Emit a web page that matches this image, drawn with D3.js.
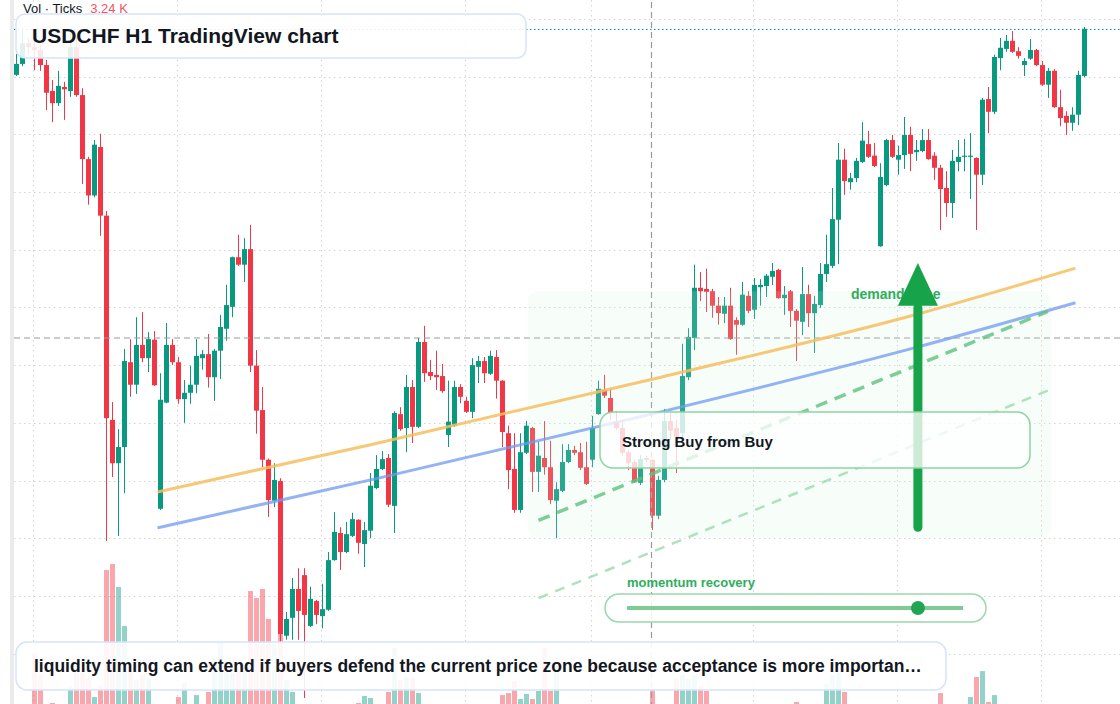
<!DOCTYPE html>
<html>
<head>
<meta charset="utf-8">
<script src="https://cdn.jsdelivr.net/npm/d3@7"></script>
<style>
  html, body { margin: 0; padding: 0; background: #ffffff; }
  svg { display: block; }
  text { font-family: "Liberation Sans", Arial, sans-serif; }
</style>
</head>
<body>
<div id="chart"></div>
<script>
// USDCHF H1 candles
var opens = [
  0.89003,0.89022,0.89058,0.89051,0.89046,0.89020,0.88975,0.88954,0.88982,0.88975,
  0.89051,0.88968,0.88857,0.88794,0.88878,0.88759,0.88405,0.88330,0.88358,0.88505,
  0.88466,0.88535,0.88512,0.88544,0.88251,0.88435,0.88535,0.88505,0.88441,0.88452,
  0.88466,0.88512,0.88519,0.88479,0.88525,0.88563,0.88601,0.88687,0.88674,0.88701,
  0.88499,0.88422,0.88336,0.88265,0.88299,0.88031,0.88062,0.88112,0.88136,0.88048,
  0.88091,0.88065,0.88076,0.88162,0.88209,0.88176,0.88204,0.88232,0.88190,0.88213,
  0.88287,0.88320,0.88339,0.88256,0.88415,0.88391,0.88462,0.88393,0.88540,0.88488,
  0.88483,0.88481,0.88379,0.88395,0.88462,0.88438,0.88419,0.88497,0.88507,0.88485,
  0.88514,0.88473,0.88382,0.88320,0.88249,0.88348,0.88391,0.88315,0.88339,0.88323,
  0.88265,0.88282,0.88332,0.88353,0.88349,0.88323,0.88336,0.88415,0.88457,0.88443,
  0.88402,0.88391,0.88349,0.88332,0.88296,0.88339,0.88336,0.88239,0.88301,0.88403,
  0.88391,0.88382,0.88479,0.88547,0.88634,0.88632,0.88628,0.88603,0.88589,0.88603,
  0.88578,0.88570,0.88620,0.88596,0.88635,0.88637,0.88653,0.88665,0.88616,0.88628,
  0.88594,0.88575,0.88623,0.88590,0.88604,0.88658,0.88672,0.88752,0.88856,0.88817,
  0.88824,0.88852,0.88883,0.88863,0.88706,0.88812,0.88890,0.88856,0.88864,0.88899,
  0.88869,0.88871,0.88890,0.88863,0.88842,0.88807,0.88781,0.88852,0.88861,0.88861,
  0.88859,0.88830,0.88961,0.88939,0.89032,0.89048,0.89062,0.89044,0.89020,0.89031,
  0.89046,0.89020,0.88986,0.89010,0.88947,0.88932,0.88920,0.88934,0.89001
];
var highs = [
  0.89039,0.89081,0.89067,0.89063,0.89055,0.89029,0.88994,0.89010,0.88991,0.89081,
  0.89070,0.88980,0.88861,0.88890,0.88901,0.88767,0.88436,0.88389,0.88528,0.88545,
  0.88583,0.88592,0.88557,0.88559,0.88486,0.88573,0.88545,0.88514,0.88474,0.88499,
  0.88545,0.88526,0.88554,0.88528,0.88587,0.88639,0.88688,0.88726,0.88720,0.88743,
  0.88526,0.88462,0.88338,0.88330,0.88304,0.88072,0.88131,0.88148,0.88148,0.88116,
  0.88093,0.88121,0.88176,0.88245,0.88219,0.88228,0.88244,0.88233,0.88228,0.88313,
  0.88344,0.88351,0.88346,0.88420,0.88427,0.88483,0.88474,0.88547,0.88568,0.88509,
  0.88525,0.88502,0.88473,0.88473,0.88467,0.88445,0.88512,0.88516,0.88514,0.88525,
  0.88526,0.88474,0.88395,0.88382,0.88382,0.88403,0.88393,0.88367,0.88403,0.88369,
  0.88297,0.88363,0.88363,0.88360,0.88365,0.88367,0.88412,0.88473,0.88483,0.88459,
  0.88420,0.88405,0.88353,0.88336,0.88344,0.88343,0.88337,0.88308,0.88424,0.88419,
  0.88405,0.88537,0.88564,0.88674,0.88661,0.88667,0.88632,0.88618,0.88618,0.88634,
  0.88583,0.88644,0.88628,0.88651,0.88649,0.88658,0.88677,0.88667,0.88637,0.88630,
  0.88597,0.88670,0.88639,0.88620,0.88677,0.88726,0.88807,0.88885,0.88875,0.88833,
  0.88859,0.88921,0.88906,0.88885,0.88850,0.88892,0.88899,0.88880,0.88930,0.88913,
  0.88890,0.88909,0.88909,0.88869,0.88847,0.88836,0.88873,0.88890,0.88892,0.88902,
  0.88860,0.88963,0.88982,0.89038,0.89067,0.89072,0.89079,0.89051,0.89032,0.89065,
  0.89048,0.89027,0.89015,0.89013,0.88977,0.88940,0.88947,0.89010,0.89086
];
var lows = [
  0.89001,0.89018,0.89038,0.89011,0.89010,0.88942,0.88921,0.88949,0.88925,0.88965,
  0.88965,0.88814,0.88778,0.88791,0.88724,0.88195,0.88306,0.88204,0.88278,0.88445,
  0.88450,0.88505,0.88488,0.88464,0.88249,0.88434,0.88500,0.88433,0.88400,0.88433,
  0.88451,0.88492,0.88461,0.88438,0.88476,0.88542,0.88583,0.88672,0.88644,0.88488,
  0.88381,0.88323,0.88237,0.88254,0.88020,0.88024,0.88024,0.88024,0.87923,0.88046,
  0.88051,0.88044,0.88074,0.88161,0.88145,0.88174,0.88202,0.88173,0.88150,0.88200,
  0.88285,0.88318,0.88254,0.88209,0.88386,0.88349,0.88365,0.88391,0.88471,0.88474,
  0.88457,0.88452,0.88358,0.88393,0.88434,0.88417,0.88408,0.88469,0.88469,0.88483,
  0.88442,0.88358,0.88285,0.88244,0.88244,0.88346,0.88280,0.88280,0.88310,0.88259,
  0.88200,0.88280,0.88330,0.88344,0.88318,0.88292,0.88323,0.88414,0.88443,0.88405,
  0.88388,0.88343,0.88318,0.88296,0.88292,0.88332,0.88214,0.88233,0.88297,0.88370,
  0.88313,0.88370,0.88474,0.88526,0.88611,0.88592,0.88582,0.88570,0.88573,0.88544,
  0.88518,0.88568,0.88590,0.88580,0.88603,0.88618,0.88639,0.88615,0.88587,0.88566,
  0.88507,0.88552,0.88566,0.88521,0.88599,0.88644,0.88668,0.88675,0.88795,0.88804,
  0.88817,0.88850,0.88859,0.88843,0.88705,0.88810,0.88859,0.88830,0.88840,0.88836,
  0.88854,0.88869,0.88856,0.88821,0.88734,0.88757,0.88755,0.88836,0.88836,0.88788,
  0.88734,0.88812,0.88902,0.88935,0.89011,0.89043,0.89041,0.89031,0.89001,0.89029,
  0.89018,0.88984,0.88963,0.88946,0.88914,0.88899,0.88906,0.88916,0.88999
];
var closes = [
  0.89022,0.89058,0.89051,0.89046,0.89020,0.88972,0.88954,0.88984,0.88978,0.89051,
  0.88968,0.88857,0.88794,0.88882,0.88759,0.88408,0.88330,0.88358,0.88507,0.88466,
  0.88535,0.88512,0.88545,0.88465,0.88440,0.88535,0.88505,0.88441,0.88452,0.88466,
  0.88516,0.88519,0.88479,0.88525,0.88566,0.88604,0.88687,0.88674,0.88701,0.88499,
  0.88421,0.88336,0.88266,0.88301,0.88034,0.88060,0.88112,0.88074,0.88067,0.88095,
  0.88067,0.88077,0.88162,0.88211,0.88176,0.88207,0.88233,0.88192,0.88214,0.88291,
  0.88320,0.88337,0.88258,0.88417,0.88389,0.88462,0.88393,0.88540,0.88486,0.88481,
  0.88479,0.88455,0.88402,0.88462,0.88445,0.88419,0.88500,0.88507,0.88486,0.88516,
  0.88473,0.88384,0.88318,0.88249,0.88349,0.88395,0.88315,0.88343,0.88323,0.88266,
  0.88285,0.88332,0.88353,0.88348,0.88322,0.88294,0.88391,0.88459,0.88447,0.88417,
  0.88391,0.88348,0.88330,0.88297,0.88337,0.88336,0.88239,0.88301,0.88403,0.88386,
  0.88375,0.88481,0.88549,0.88634,0.88628,0.88627,0.88603,0.88590,0.88603,0.88545,
  0.88570,0.88622,0.88594,0.88639,0.88639,0.88655,0.88663,0.88616,0.88622,0.88594,
  0.88577,0.88623,0.88590,0.88606,0.88658,0.88675,0.88753,0.88856,0.88819,0.88824,
  0.88854,0.88889,0.88861,0.88845,0.88826,0.88890,0.88861,0.88864,0.88899,0.88866,
  0.88873,0.88890,0.88857,0.88842,0.88805,0.88781,0.88854,0.88861,0.88863,0.88863,
  0.88830,0.88960,0.88939,0.89034,0.89050,0.89062,0.89043,0.89036,0.89027,0.89046,
  0.89020,0.88986,0.89010,0.88947,0.88928,0.88920,0.88934,0.89003,0.89083
];
// tick volume per bar
var volumes = [
  2100,2400,2900,5770,4770,3100,3500,2600,2300,4230,
  4910,4860,4590,3770,4320,9545,9820,8770,7000,4910,
  4545,4770,4590,3200,2800,2500,2200,3770,4410,3000,
  3860,2700,4000,5545,6230,4910,4860,5000,5140,8590,
  8270,8680,7320,6140,6640,4545,4000,3300,3150,2900,
  2500,2650,3050,2800,2400,2200,2600,3500,3820,3730,
  3100,2700,4000,6000,4545,4680,4640,3950,3300,2600,
  2400,2750,3200,2900,2300,2100,2950,2500,2200,2400,
  3000,3860,3950,4500,3680,3910,3680,4045,6000,4045,
  4950,3200,2700,2300,2500,2800,3300,2900,2600,2400,
  2200,2500,2300,2700,2500,2100,4090,3100,3300,2900,
  4590,4770,4590,4770,4270,4045,3200,2800,2500,3100,
  2700,2900,2400,2600,2200,2300,2500,3000,2400,2800,
  3545,3200,2900,3100,3300,4360,4770,4860,4000,3000,
  2700,3200,2900,2600,3350,3100,2800,2500,3000,2700,
  2300,2500,2800,2600,3950,3300,3200,2500,2200,3770,
  4680,4950,3545,3860,3200,2600,2800,2300,2500,2700,
  2400,2900,2600,3100,2800,2400,2300,3000,3240
];

// price grid (0.0010 steps) and the bar indexes where the time grid falls
var priceTicks = [0.8800,0.8810,0.8820,0.8830,0.8840,0.8850,0.8860,0.8870,0.8880,0.8890,0.8900,0.8910];
var timeTickIdx = [3, 27, 51, 75, 96, 123, 147, 171];

// drawings (bar index, price)
var orangeIdx = [23.5, 59, 107.4, 150.4, 176.5];
var orangePx  = [0.88280, 0.88362, 0.88479, 0.88589, 0.88668];
var blueIdx   = [23.5, 60.7, 107.4, 150.4, 176.5];
var bluePx    = [0.88218, 0.88305, 0.88419, 0.88532, 0.88608];
var channelIdx   = [87, 171.9];
var channelUpper = [0.88231, 0.88593];
var channelLower = [0.88096, 0.88456];
var zoneIdx = [85.2, 172.5];
var zonePx  = [0.88201, 0.88628];
var arrowIdx = 150.4;
var arrowPx  = [0.88219, 0.88603, 0.88677]; // tail, head base, tip
var crossIdx = 106;
var crossPx  = 0.88547;
var sliderValue = 0.866;

var titleText = 'USDCHF H1 TradingView chart';
var noteText = 'liquidity timing can extend if buyers defend the current price zone because acceptance is more importan\u2026';
var lastVolLabel = '3.24 K';

var width = 1120, height = 704;
var UP = '#089981', DOWN = '#f23645';

var candles = opens.map(function(o, i) {
  return {i: i, o: o, h: highs[i], l: lows[i], c: closes[i], v: volumes[i]};
});

var svg = d3.select('#chart').append('svg')
  .attr('width', width)
  .attr('height', height);

svg.append('rect').attr('width', width).attr('height', height).attr('fill', '#ffffff');

var x = d3.scaleLinear().domain([0, candles.length - 1]).range([16.5, 16.5 + 6 * (candles.length - 1)]);
var y = d3.scaleLinear().domain([0.8800, 0.8910]).range([653.6, 18.9]);
var yVol = d3.scaleLinear().domain([0, 10000]).range([780, 560]);

var defs = svg.append('defs');
defs.append('clipPath').attr('id', 'plot')
  .append('rect').attr('x', 14).attr('y', 0).attr('width', width - 14).attr('height', height);

// left edge strip
svg.append('rect').attr('x', 10).attr('y', 0).attr('width', 4).attr('height', height).attr('fill', '#ebebeb');

// grid
var grid = svg.append('g').attr('clip-path', 'url(#plot)');
grid.selectAll('.hgrid').data(priceTicks).enter().append('line')
  .attr('x1', 14).attr('x2', width)
  .attr('y1', function(d) { return Math.round(y(d)) + 0.5; })
  .attr('y2', function(d) { return Math.round(y(d)) + 0.5; })
  .attr('stroke', '#d4d4d4').attr('stroke-width', 1).attr('stroke-dasharray', '1.5,3.5');
grid.selectAll('.vgrid').data(timeTickIdx).enter().append('line')
  .attr('x1', function(d) { return Math.floor(x(d)) - 0.5; })
  .attr('x2', function(d) { return Math.floor(x(d)) - 0.5; })
  .attr('y1', 0).attr('y2', height)
  .attr('stroke', '#d4d4d4').attr('stroke-width', 1).attr('stroke-dasharray', '1.5,3.5');

var plot = svg.append('g').attr('clip-path', 'url(#plot)');

// volume
plot.selectAll('.vol').data(candles).enter().append('rect')
  .attr('x', function(d) { return x(d.i) - 2.5; })
  .attr('width', 5)
  .attr('y', function(d) { return yVol(d.v); })
  .attr('height', function(d) { return yVol(0) - yVol(d.v); })
  .attr('fill', function(d) { return d.c >= d.o ? UP : DOWN; })
  .attr('opacity', 0.44);

// candles
var cg = plot.selectAll('.candle').data(candles).enter().append('g');
cg.append('line')
  .attr('x1', function(d) { return x(d.i); })
  .attr('x2', function(d) { return x(d.i); })
  .attr('y1', function(d) { return y(d.h); })
  .attr('y2', function(d) { return y(d.l); })
  .attr('stroke', function(d) { return d.c >= d.o ? UP : DOWN; })
  .attr('stroke-width', 1);
cg.append('rect')
  .attr('x', function(d) { return x(d.i) - 2.5; })
  .attr('width', 5)
  .attr('y', function(d) { return y(Math.max(d.o, d.c)); })
  .attr('height', function(d) { return Math.max(1.2, Math.abs(y(d.o) - y(d.c))); })
  .attr('fill', function(d) { return d.c >= d.o ? UP : DOWN; });

// last price line
var lastY = Math.round(y(closes[closes.length - 1])) + 0.5;
plot.append('line').attr('x1', 14).attr('x2', width).attr('y1', lastY).attr('y2', lastY)
  .attr('stroke', UP).attr('stroke-width', 1).attr('stroke-dasharray', '1.5,2.5');

// crosshair
plot.append('line').attr('x1', x(crossIdx) - 1).attr('x2', x(crossIdx) - 1).attr('y1', 2).attr('y2', height)
  .attr('stroke', '#9a9a9a').attr('stroke-width', 1.2).attr('stroke-dasharray', '6,4');
plot.append('line').attr('x1', 14).attr('x2', width).attr('y1', y(crossPx)).attr('y2', y(crossPx))
  .attr('stroke', '#9a9a9a').attr('stroke-width', 1.2).attr('stroke-dasharray', '6,4');

// demand zone
var anno = svg.append('g');
anno.append('rect')
  .attr('x', x(zoneIdx[0])).attr('y', y(zonePx[1]))
  .attr('width', x(zoneIdx[1]) - x(zoneIdx[0]))
  .attr('height', y(zonePx[0]) - y(zonePx[1]))
  .attr('rx', 10)
  .attr('fill', 'rgb(205,242,215)').attr('fill-opacity', 0.17);

// curved trend lines
var curve = d3.line()
  .x(function(d) { return x(d[0]); })
  .y(function(d) { return y(d[1]); })
  .curve(d3.curveMonotoneX);

anno.append('path').datum(d3.zip(orangeIdx, orangePx))
  .attr('d', curve).attr('fill', 'none')
  .attr('stroke', '#f6be5e').attr('stroke-opacity', 0.85).attr('stroke-width', 3);
anno.append('path').datum(d3.zip(blueIdx, bluePx))
  .attr('d', curve).attr('fill', 'none')
  .attr('stroke', '#6f99f2').attr('stroke-opacity', 0.75).attr('stroke-width', 3);

// channel
anno.append('path').datum(d3.zip(channelIdx, channelUpper))
  .attr('d', curve).attr('fill', 'none')
  .attr('stroke', '#5cc17f').attr('stroke-opacity', 0.8).attr('stroke-width', 3.5)
  .attr('stroke-dasharray', '12,8');
anno.append('path').datum(d3.zip(channelIdx, channelLower))
  .attr('d', curve).attr('fill', 'none')
  .attr('stroke', '#8fd4a4').attr('stroke-opacity', 0.7).attr('stroke-width', 2.5)
  .attr('stroke-dasharray', '10,8');

// demand zone label
anno.append('text')
  .attr('x', 851).attr('y', y(zonePx[1]) + 8)
  .attr('fill', '#2fae5c').attr('font-size', 14).attr('font-weight', 'bold')
  .text('demand zone');

// arrow
var ax = x(arrowIdx) - 1;
anno.append('line')
  .attr('x1', ax).attr('x2', ax)
  .attr('y1', y(arrowPx[0])).attr('y2', y(arrowPx[1]) + 2)
  .attr('stroke', '#17a34a').attr('stroke-width', 9).attr('stroke-linecap', 'round');
anno.append('path')
  .attr('d', 'M' + (ax - 20) + ',' + y(arrowPx[1]) + 'L' + ax + ',' + y(arrowPx[2]) + 'L' + (ax + 20) + ',' + y(arrowPx[1]) + 'Z')
  .attr('fill', '#17a34a');

// strong buy callout
anno.append('rect')
  .attr('x', 600).attr('y', 412).attr('width', 430).attr('height', 56).attr('rx', 13)
  .attr('fill', '#ffffff').attr('fill-opacity', 0.78)
  .attr('stroke', '#8fd3a2').attr('stroke-width', 1.5);
anno.append('text')
  .attr('x', 622).attr('y', 447)
  .attr('fill', '#131722').attr('font-size', 15).attr('font-weight', 'bold')
  .text('Strong Buy from Buy');

// momentum slider
anno.append('text')
  .attr('x', 627).attr('y', 587)
  .attr('fill', '#2fae5c').attr('font-size', 13).attr('font-weight', 'bold')
  .text('momentum recovery');
anno.append('rect')
  .attr('x', 605).attr('y', 594).attr('width', 381).attr('height', 28).attr('rx', 14)
  .attr('fill', '#ffffff').attr('fill-opacity', 0.85)
  .attr('stroke', '#9bd8ab').attr('stroke-width', 1.5);
var sx = d3.scaleLinear().domain([0, 1]).range([627, 963]);
anno.append('line')
  .attr('x1', sx(0)).attr('x2', sx(1)).attr('y1', 608).attr('y2', 608)
  .attr('stroke', '#7fcb95').attr('stroke-width', 4);
anno.append('circle')
  .attr('cx', sx(sliderValue)).attr('cy', 608).attr('r', 7)
  .attr('fill', '#23a455');

// bottom note
anno.append('rect')
  .attr('x', 16).attr('y', 642).attr('width', 930).attr('height', 48).attr('rx', 11)
  .attr('fill', '#ffffff').attr('fill-opacity', 0.9)
  .attr('stroke', '#d5e3fb').attr('stroke-width', 1.5);
anno.append('text')
  .attr('x', 34).attr('y', 672)
  .attr('fill', '#131722').attr('font-size', 17.5).attr('font-weight', 'bold')
  .text(noteText);

// title
anno.append('rect')
  .attr('x', 16).attr('y', 14).attr('width', 510).attr('height', 44).attr('rx', 9)
  .attr('fill', '#ffffff').attr('fill-opacity', 0.88)
  .attr('stroke', '#d5e3fb').attr('stroke-width', 1.5);
anno.append('text')
  .attr('x', 32).attr('y', 43)
  .attr('fill', '#131722').attr('font-size', 21).attr('font-weight', 'bold')
  .text(titleText);

// volume legend
var leg = anno.append('text').attr('x', 23).attr('y', 13).attr('font-size', 13);
leg.append('tspan').attr('fill', '#131722').text('Vol \u00b7 Ticks');
leg.append('tspan').attr('fill', '#f7525f').attr('dx', 8).text(lastVolLabel);
</script>
</body>
</html>
